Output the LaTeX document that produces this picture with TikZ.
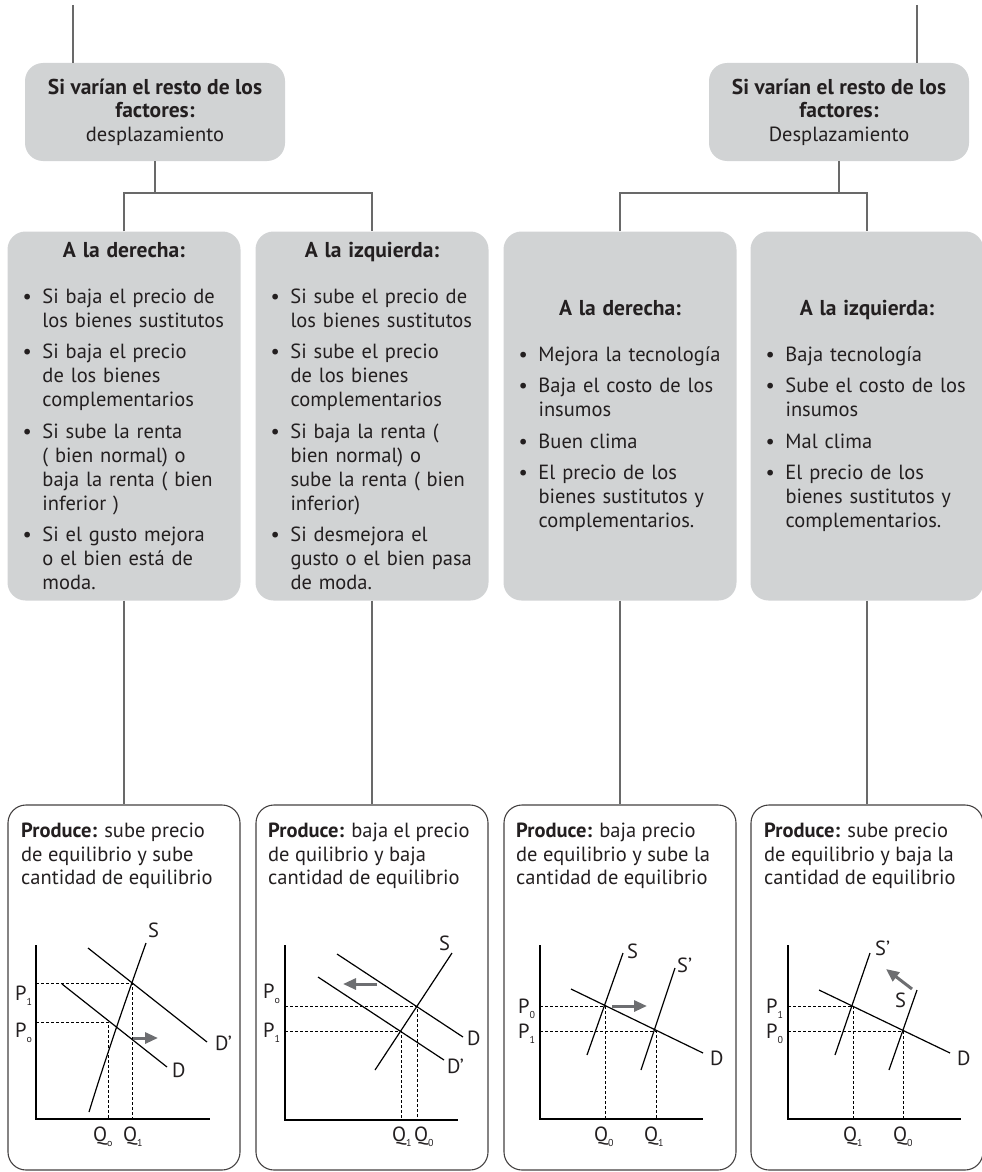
\documentclass[tikz,border=0pt]{standalone}
\usepackage{fontspec}
\setmainfont{PT Sans}
\usetikzlibrary{positioning, arrows.meta}
\definecolor{boxgray}{RGB}{209,211,212}
\definecolor{ink}{RGB}{35,31,32}
\definecolor{linegray}{RGB}{105,105,105}
\definecolor{arrowgray}{RGB}{109,110,113}
\tikzstyle{head}=[rounded corners=18pt, fill=boxgray, minimum width=260pt, minimum height=98pt, inner sep=0pt, align=center]
\tikzstyle{cause}=[rounded corners=18pt, fill=boxgray, minimum width=233pt, minimum height=369pt, text width=233pt, inner sep=0pt]
\tikzstyle{result}=[rounded corners=18pt, draw=ink!85, line width=1.1pt, minimum width=232pt, minimum height=365pt]
\tikzstyle{note}=[anchor=north west, inner sep=0pt, align=left]
\tikzstyle{link}=[draw=linegray, line width=1.4pt]
\tikzstyle{axis}=[line width=1.2pt]
\tikzstyle{curve}=[line width=1.2pt]
\tikzstyle{guide}=[line width=1pt, dash pattern=on 3pt off 2pt]
\tikzstyle{lbl}=[anchor=base west, inner sep=0pt]
\tikzstyle{movearrow}=[draw=arrowgray, line width=3pt, -{Triangle[length=13pt, width=11pt]}]
\newcommand{\bfline}[1]{{\fontsize{21.5}{24}\selectfont\textbf{#1}}}
\newcommand{\heading}[1]{\vspace*{6pt}{\centering\bfline{#1}\par}\vspace{8.5pt}}
\newcommand{\itm}[1]{\par\vspace{7.5pt}{\let\\\newline\hangindent=35pt\hangafter=1\noindent\hspace*{15pt}\makebox[20pt][l]{\textbullet}#1\par}}
\newcommand{\lo}[1]{\raisebox{-5pt}{\fontsize{10}{10}\selectfont #1}}

\begin{document}
\begin{tikzpicture}[x=1pt, y=-1pt, font=\fontsize{20.5}{23.5}\selectfont, text=ink]
    \useasboundingbox (0,0) rectangle (982,1172);
    \coordinate (tl) at (73,5);
    \coordinate (tr) at (917,5);
    \coordinate (jl) at (155,193);
    \coordinate (jr) at (839,193);

    % top boxes
    \node[head] (hl) at (155,112) {\bfline{Si varían el resto de los}\\\bfline{factores:}\\desplazamiento};
    \node[head] (hr) at (839,112) {\bfline{Si varían el resto de los}\\\bfline{factores:}\\Desplazamiento};

    % causes
    \node[cause, font=\fontsize{20.5}{24}\selectfont] (c1) at (124,416) {\raggedright\heading{A la derecha:}
        \itm{Si baja el precio de\\los bienes sustitutos}
        \itm{Si baja el precio\\de los bienes\\complementarios}
        \itm{Si sube la renta\\( bien normal) o\\baja la renta ( bien\\inferior )}
        \itm{Si el gusto mejora\\o el bien está de\\moda.}};
    \node[cause, font=\fontsize{20.5}{24}\selectfont] (c2) at (372,416) {\raggedright\heading{A la izquierda:}
        \itm{Si sube el precio de\\los bienes sustitutos}
        \itm{Si sube el precio\\de los bienes\\complementarios}
        \itm{Si baja la renta (\\bien normal) o\\sube la renta ( bien\\inferior)}
        \itm{Si desmejora el\\gusto o el bien pasa\\de moda.}};
    \node[cause, font=\fontsize{20.5}{24}\selectfont] (c3) at (620,416) {\raggedright\heading{A la derecha:}
        \itm{Mejora la tecnología}
        \itm{Baja el costo de los\\insumos}
        \itm{Buen clima}
        \itm{El precio de los\\bienes sustitutos y\\complementarios.}};
    \node[cause, font=\fontsize{20.5}{24}\selectfont] (c4) at (867,416) {\raggedright\heading{A la izquierda:}
        \itm{Baja tecnología}
        \itm{Sube el costo de los\\insumos}
        \itm{Mal clima}
        \itm{El precio de los\\bienes sustitutos y\\complementarios.}};

    % results
    \node[result] (r1) at (124,987.5) {};
    \node[result] (r2) at (372,987.5) {};
    \node[result] (r3) at (620,987.5) {};
    \node[result] (r4) at (867,987.5) {};
    \node[note] (t1) at (21,823) {\textbf{Produce:} sube precio\\de equilibrio y sube\\cantidad de equilibrio};
    \node[note] (t2) at (268,823) {\textbf{Produce:} baja el precio\\de quilibrio y baja\\cantidad de equilibrio};
    \node[note] (t3) at (516,823) {\textbf{Produce:} baja precio\\de equilibrio y sube la\\cantidad de equilibrio};
    \node[note] (t4) at (764,823) {\textbf{Produce:} sube precio\\de equilibrio y baja la\\cantidad de equilibrio};

    % connectors
    \draw[link] (tl) -- (tl |- hl.north);
    \draw[link] (tr) -- (tr |- hr.north);
    \draw[link] (hl.south) -- (jl);
    \draw[link] (hr.south) -- (jr);
    \draw[link] (c1.north) |- (jl) -| (c2.north);
    \draw[link] (c3.north) |- (jr) -| (c4.north);
    \draw[link] (c1.south) -- (r1.north);
    \draw[link] (c2.south) -- (r2.north);
    \draw[link] (c3.south) -- (r3.north);
    \draw[link] (c4.south) -- (r4.north);

    % graph 1
    \draw[axis] (36,945) -- (36,1119) -- (210,1119);
    \draw[guide] (36,983) -- (132,983) -- (132,1119);
    \draw[guide] (36,1022) -- (108,1022) -- (108,1119);
    \draw[curve] (89,1112) .. controls (108,1050) and (130,988) .. (146,943);
    \draw[curve] (62,984) -- (167,1067);
    \draw[curve] (88,948) -- (207,1042);
    \draw[movearrow] (133,1038) -- (158,1038);
    \node[lbl] (s1) at (148,937) {S};
    \node[lbl] (d1) at (172,1077) {D};
    \node[lbl] (dd1) at (215,1050) {D’};
    \node[lbl] (pa1) at (15,1000) {P\lo{1}};
    \node[lbl] (pb1) at (15,1037) {P\lo{o}};
    \node[lbl] (qa1) at (93,1141) {Q\lo{o}};
    \node[lbl] (qb1) at (123,1141) {Q\lo{1}};

    % graph 2
    \draw[axis] (285,945) -- (285,1120) -- (458,1120);
    \draw[guide] (285,1006) -- (417,1006) -- (417,1120);
    \draw[guide] (285,1031) -- (401,1031) -- (401,1120);
    \draw[curve] (375,1070) -- (452,953);
    \draw[curve] (337,954) -- (463,1037);
    \draw[curve] (318,977) -- (444,1060);
    \draw[movearrow] (377,984) -- (343,984);
    \node[lbl] (s2) at (439,950) {S};
    \node[lbl] (d2) at (467,1045) {D};
    \node[lbl] (dd2) at (447,1073) {D’};
    \node[lbl] (pa2) at (263,998) {P\lo{o}};
    \node[lbl] (pb2) at (263,1037) {P\lo{1}};
    \node[lbl] (qa2) at (392,1141) {Q\lo{1}};
    \node[lbl] (qb2) at (414,1141) {Q\lo{0}};

    % graph 3
    \draw[axis] (540,945) -- (540,1119) -- (703,1119);
    \draw[guide] (540,1006) -- (605,1006) -- (605,1119);
    \draw[guide] (540,1031) -- (656,1031) -- (656,1119);
    \draw[curve] (587,1055) -- (623,953);
    \draw[curve] (641,1070) -- (675,968);
    \draw[curve] (571,989) -- (703,1053);
    \draw[movearrow] (612,1006) -- (647,1006);
    \node[lbl] (s3) at (627,958) {S};
    \node[lbl] (ss3) at (677,972) {S’};
    \node[lbl] (d3) at (710,1065) {D};
    \node[lbl] (pa3) at (518,1013) {P\lo{0}};
    \node[lbl] (pb3) at (518,1038) {P\lo{1}};
    \node[lbl] (qa3) at (594,1141) {Q\lo{0}};
    \node[lbl] (qb3) at (644,1141) {Q\lo{1}};

    % graph 4
    \draw[axis] (788,945) -- (788,1119) -- (961,1119);
    \draw[guide] (788,1006) -- (853,1006) -- (853,1119);
    \draw[guide] (788,1031) -- (903,1031) -- (903,1119);
    \draw[curve] (835,1055) -- (870,953);
    \draw[curve] (889,1070) -- (917,990);
    \draw[curve] (819,990) -- (950,1053);
    \draw[movearrow] (912,989) -- (886,969);
    \node[lbl] (ss4) at (875,955) {S’};
    \node[lbl] (s4) at (895,1007) {S};
    \node[lbl] (d4) at (957,1065) {D};
    \node[lbl] (pa4) at (766,1013) {P\lo{1}};
    \node[lbl] (pb4) at (766,1038) {P\lo{0}};
    \node[lbl] (qa4) at (843,1141) {Q\lo{1}};
    \node[lbl] (qb4) at (893,1141) {Q\lo{0}};
\end{tikzpicture}
\end{document}
